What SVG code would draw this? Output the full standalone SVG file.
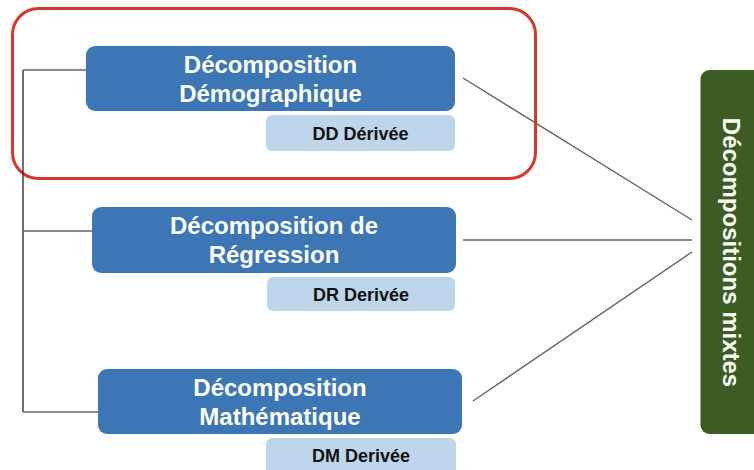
<svg xmlns="http://www.w3.org/2000/svg" width="754" height="470" viewBox="0 0 754 470">
<style>
.main{fill:#3c76b5;}
.sub{fill:#bdd6eb;}
.mt{font-family:"Liberation Sans",Arial,sans-serif;font-weight:bold;font-size:24px;fill:#ffffff;text-anchor:middle;}
.st{font-family:"Liberation Sans",Arial,sans-serif;font-weight:bold;font-size:18px;fill:#111111;text-anchor:middle;}
.conn{stroke:#6f605b;stroke-width:1.4;fill:none;}
.tree{stroke:#3a3330;stroke-width:1.4;fill:none;}
</style>
<rect width="754" height="470" fill="#ffffff"/>
<g id="highlight">
<rect x="12.5" y="8.5" width="523" height="170" rx="26" fill="none" stroke="#d8362a" stroke-width="3"/>
</g>
<g id="connectors">
<path class="tree" d="M23 70 V412"/>
<path class="conn" d="M23 70 H86"/>
<path class="conn" d="M23 231 H92"/>
<path class="conn" d="M23 412 H98"/>
<path class="conn" d="M463 78 L692 220"/>
<path class="conn" d="M463 240 L692 240"/>
<path class="conn" d="M473 401 L692 252"/>
</g>
<g id="node-dd">
<rect class="main" x="86" y="46" width="369" height="65" rx="9"/>
<text class="mt" x="270.5" y="73">Décomposition</text>
<text class="mt" x="270.5" y="102">Démographique</text>
</g>
<g id="node-dd-derivee">
<rect class="sub" x="266" y="115" width="189" height="36" rx="6"/>
<text class="st" x="360.5" y="140">DD Dérivée</text>
</g>
<g id="node-dr">
<rect class="main" x="92" y="207" width="364" height="66" rx="9"/>
<text class="mt" x="274" y="234">Décomposition de</text>
<text class="mt" x="274" y="263">Régression</text>
</g>
<g id="node-dr-derivee">
<rect class="sub" x="267" y="277" width="188" height="34" rx="6"/>
<text class="st" x="361" y="301">DR Derivée</text>
</g>
<g id="node-dm">
<rect class="main" x="98" y="369" width="364" height="65" rx="9"/>
<text class="mt" x="280" y="396">Décomposition</text>
<text class="mt" x="280" y="425">Mathématique</text>
</g>
<g id="node-dm-derivee">
<rect class="sub" x="266" y="438" width="190" height="36" rx="6"/>
<text class="st" x="361" y="462">DM Derivée</text>
</g>
<g id="node-mixtes">
<rect x="700.5" y="70" width="70" height="364" rx="9" fill="#3d5c23"/>
<text class="mt" transform="translate(723,252.5) rotate(90)" x="0" y="0">Décompositions mixtes</text>
</g>
</svg>
